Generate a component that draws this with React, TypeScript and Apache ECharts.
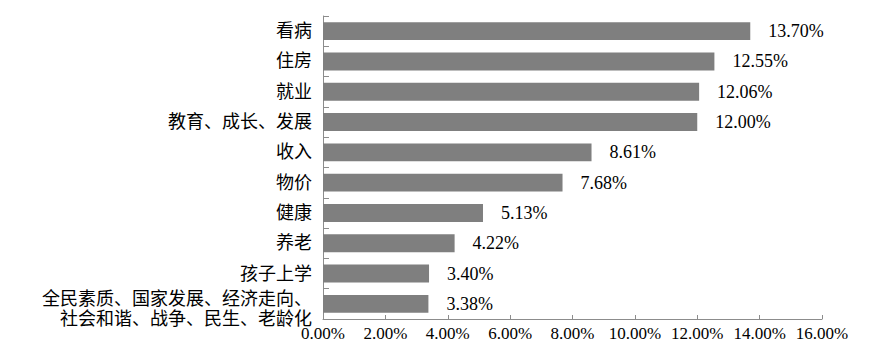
import React, { useEffect, useRef } from "react";
import * as echarts from "echarts";

const categories = [
  "看病",
  "住房",
  "就业",
  "教育、成长、发展",
  "收入",
  "物价",
  "健康",
  "养老",
  "孩子上学",
  "全民素质、国家发展、经济走向、\n社会和谐、战争、民生、老龄化",
];
const values = [13.7, 12.55, 12.06, 12.0, 8.61, 7.68, 5.13, 4.22, 3.4, 3.38];
const xTicks = { min: 0, max: 16, interval: 2 };

const serif = "Liberation Serif, serif";
const cjk = "Liberation Serif, Noto Sans CJK SC, serif";

export default function App() {
  const ref = useRef<HTMLDivElement>(null);
  useEffect(() => {
    if (!ref.current) return;
    const chart = echarts.init(ref.current, null, { renderer: "svg" });
    chart.setOption({
      animation: false,
      backgroundColor: "#ffffff",
      grid: { left: 315, right: 57, top: 8, bottom: 35 },
      xAxis: {
        type: "value",
        min: xTicks.min,
        max: xTicks.max,
        interval: xTicks.interval,
        axisLine: { show: true, lineStyle: { color: "#8c8c8c", width: 1 } },
        axisTick: { show: true, inside: true, length: 4, lineStyle: { color: "#8c8c8c" } },
        splitLine: { show: false },
        axisLabel: {
          formatter: (v: number) => v.toFixed(2) + "%",
          color: "#000",
          fontFamily: serif,
          fontSize: 17,
          margin: 6,
        },
      },
      yAxis: {
        type: "category",
        data: categories,
        inverse: true,
        axisLine: { show: true, lineStyle: { color: "#8c8c8c", width: 1 } },
        axisTick: { show: true, inside: true, length: 6, interval: 0, lineStyle: { color: "#8c8c8c" } },
        axisLabel: {
          interval: 0,
          hideOverlap: false,
          color: "#000",
          fontFamily: cjk,
          fontSize: 18,
          lineHeight: 20,
          margin: 11,
          align: "right",
          formatter: (v: string) => (v.indexOf("\n") >= 0 ? "{m|" + v.replace("\n", "}\n{m|") + "}" : v),
          rich: {
            m: {
              color: "#000",
              fontFamily: cjk,
              fontSize: 18,
              lineHeight: 20,
              padding: [11, 0, 0, 0],
            },
          },
        },
      },
      series: [
        {
          type: "bar",
          data: values,
          barCategoryGap: "41%",
          itemStyle: { color: "#7f7f7f" },
          label: {
            show: true,
            position: "right",
            distance: 18,
            formatter: (p: any) => Number(p.value).toFixed(2) + "%",
            color: "#000",
            fontFamily: serif,
            fontSize: 18,
          },
        },
      ],
    });
    return () => chart.dispose();
  }, []);
  return <div ref={ref} style={{ width: 871, height: 346 }} />;
}
